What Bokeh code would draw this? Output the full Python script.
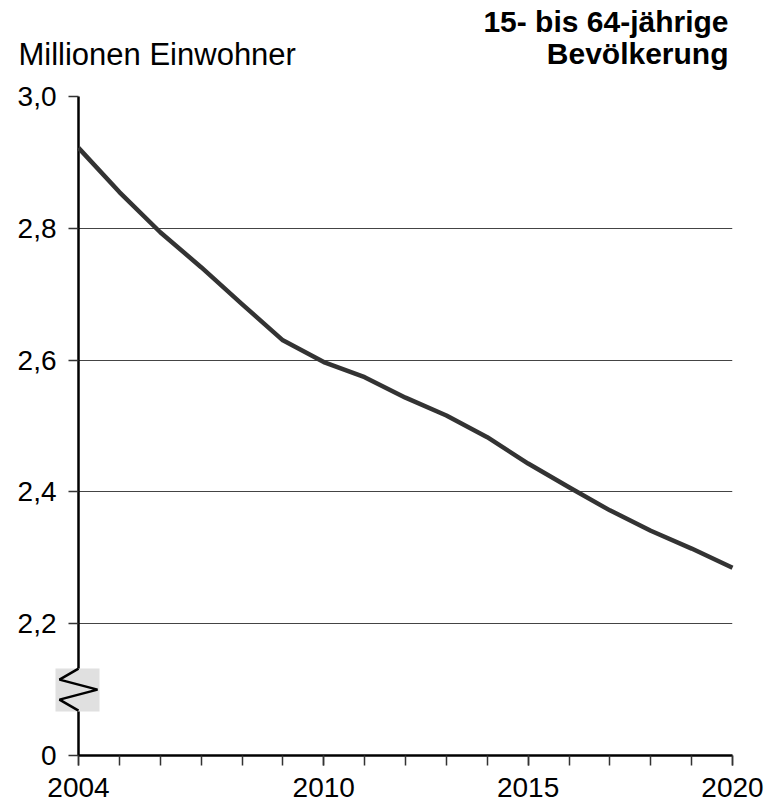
from bokeh.plotting import figure
from bokeh.models import Range1d, FixedTicker
from bokeh.core.properties import value
from bokeh.embed import file_html
from bokeh.resources import INLINE

# ---- data ----
years = list(range(2004, 2021))
population = [2.922, 2.855, 2.794, 2.741, 2.685, 2.630, 2.597, 2.574, 2.543,
              2.516, 2.483, 2.443, 2.407, 2.372, 2.341, 2.314, 2.285]
y_ticks = [2.0, 2.2, 2.4, 2.6, 2.8, 3.0]
y_tick_labels = ["0", "2,2", "2,4", "2,6", "2,8", "3,0"]
x_ticks = [2004, 2010, 2015, 2020]
unit_label = "Millionen Einwohner"
title_lines = ["15- bis 64-jährige", "Bevölkerung"]

FONT = "Liberation Sans"
X0, X1 = 2004, 2020
Y0, Y1 = 2.0, 3.0
W, H = 771, 804
BL, BR, BT, BB = 78, 39, 96, 49

p = figure(width=W, height=H,
           min_border_left=BL, min_border_right=BR, min_border_top=BT, min_border_bottom=BB,
           x_range=Range1d(X0, X1), y_range=Range1d(Y0, Y1),
           output_backend="svg", toolbar_location=None)
p.outline_line_color = None
p.background_fill_color = "white"

# grid
p.xgrid.grid_line_color = None
p.ygrid.ticker = FixedTicker(ticks=y_ticks[1:])
p.ygrid.grid_line_color = "#444444"
p.ygrid.grid_line_width = 1

# x axis
xa = p.xaxis[0]
xa.ticker = FixedTicker(ticks=x_ticks, minor_ticks=years)
xa.axis_line_color = "black"
xa.axis_line_width = 2.5
xa.major_tick_out = 10
xa.major_tick_in = 0
xa.minor_tick_out = 10
xa.minor_tick_in = 0
xa.major_tick_line_color = "#333333"
xa.minor_tick_line_color = "#333333"
xa.major_tick_line_width = 1.5
xa.minor_tick_line_width = 1.5
xa.major_label_text_font = FONT
xa.major_label_text_font_size = "28px"
xa.major_label_text_color = "black"
xa.major_label_standoff = 12

# y axis
ya = p.yaxis[0]
ya.ticker = FixedTicker(ticks=y_ticks, minor_ticks=[])
ya.major_label_overrides = dict(zip(y_ticks, y_tick_labels))
ya.axis_line_color = "black"
ya.axis_line_width = 2.5
ya.major_tick_out = 10
ya.major_tick_in = 0
ya.major_tick_line_color = "#333333"
ya.major_tick_line_width = 1.5
ya.minor_tick_line_color = None
ya.major_label_text_font = FONT
ya.major_label_text_font_size = "28px"
ya.major_label_text_color = "black"
ya.major_label_standoff = 12

# data line
p.line(years, population, line_color="#333333", line_width=4.5, line_join="round",
       level="overlay")

# axis break symbol (pixel offsets converted to data units)
px_x = (X1 - X0) / (W - BL - BR)
px_y = (Y1 - Y0) / (H - BT - BB)
brk_y = 2.1
p.quad(left=[X0 - 23 * px_x], right=[X0 + 21 * px_x],
       bottom=[brk_y - 22 * px_y], top=[brk_y + 21 * px_y],
       fill_color="#e0e0e0", line_color=None, level="overlay")
zx = [X0, X0 - 19 * px_x, X0 + 19 * px_x, X0 - 19 * px_x, X0]
zy = [brk_y + 21 * px_y, brk_y + 10 * px_y, brk_y, brk_y - 10 * px_y, brk_y - 21 * px_y]
p.line(zx, zy, line_color="black", line_width=2.5, level="overlay")

# texts
p.text(x=[X0 - 60 * px_x], y=[Y1 + 42 * px_y], text=[unit_label],
       text_font=value(FONT), text_font_size="31px", text_color="black",
       text_align="left", text_baseline="alphabetic", level="overlay")
p.text(x=[X1 - 4 * px_x, X1 - 4 * px_x], y=[Y1 + 75 * px_y, Y1 + 43 * px_y], text=title_lines,
       text_font=value(FONT), text_font_size="30px", text_font_style="bold",
       text_color="black", text_align="right", text_baseline="alphabetic", level="overlay")

open("out.html", "w").write(file_html(p, INLINE))
